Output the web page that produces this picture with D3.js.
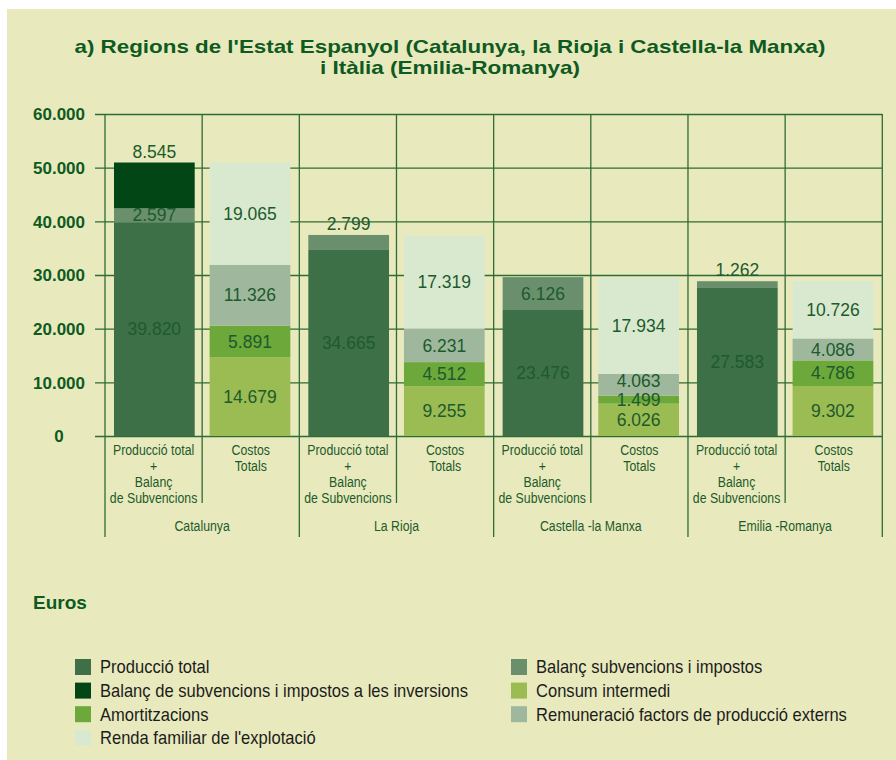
<!DOCTYPE html>
<html>
<head>
<meta charset="utf-8">
<script src="https://cdn.jsdelivr.net/npm/d3@7"></script>
<style>
  html, body { margin: 0; padding: 0; background: #ffffff; }
  svg { display: block; }
</style>
</head>
<body>
<svg id="chart" width="896" height="760"></svg>
<script>
// ---------- DATA ----------
const regions = ["Catalunya", "La Rioja", "Castella -la Manxa", "Emilia -Romanya"];
const barTypes = ["prod", "cost"];
const barTypeLabels = [
  ["Producció total", "+", "Balanç", "de Subvencions"],
  ["Costos", "Totals"]
];
const yTicks = [0, 10000, 20000, 30000, 40000, 50000, 60000];

// Producció total + Balanç de Subvencions (stack bottom → top)
const produccioTotal    = [39820, 34665, 23476, 27583];
const balancSubvencions = [2597, 2799, 6126, 1262];
const balancInversions  = [8545, 0, 0, 0];
// Costos Totals (stack bottom → top)
const consumIntermedi   = [14679, 9255, 6026, 9302];
const amortitzacions    = [5891, 4512, 1499, 4786];
const remuneracio       = [11326, 6231, 4063, 4086];
const rendaFamiliar     = [19065, 17319, 17934, 10726];

const seriesNames = {
  produccioTotal: "Producció total",
  balancSubvencions: "Balanç subvencions i impostos",
  balancInversions: "Balanç de subvencions i impostos a les inversions",
  consumIntermedi: "Consum intermedi",
  amortitzacions: "Amortitzacions",
  remuneracio: "Remuneració factors de producció externs",
  rendaFamiliar: "Renda familiar de l'explotació"
};
const seriesColors = {
  produccioTotal: "#3d7046",
  balancSubvencions: "#6a8f6c",
  balancInversions: "#014614",
  consumIntermedi: "#9bbb53",
  amortitzacions: "#6ca83a",
  remuneracio: "#9fb89d",
  rendaFamiliar: "#d9e9cf"
};
const stacks = {
  prod: [["produccioTotal", produccioTotal], ["balancSubvencions", balancSubvencions], ["balancInversions", balancInversions]],
  cost: [["consumIntermedi", consumIntermedi], ["amortitzacions", amortitzacions], ["remuneracio", remuneracio], ["rendaFamiliar", rendaFamiliar]]
};
const legendLeft  = ["produccioTotal", "balancInversions", "amortitzacions", "rendaFamiliar"];
const legendRight = ["balancSubvencions", "consumIntermedi", "remuneracio"];

// ---------- SETUP ----------
const svg = d3.select("#chart");
const SANS = "'Liberation Sans', Arial, Helvetica, sans-serif";
const DARK = "#0f5a22";
const LABEL = "#1d5a2c";
const GRID = "#2f6b35";
const loc = d3.formatLocale({ decimal: ",", thousands: ".", grouping: [3], currency: ["", "€"] });
const fmt = loc.format(",");

// condensed text helper (horizontal scale, like a narrow face)
function narrowText(g, x, y, str, size, sx, fill) {
  return g.append("text")
    .attr("transform", `translate(${x},${y}) scale(${sx},1)`)
    .attr("dy", "0.35em")
    .attr("font-family", SANS).attr("font-size", size).attr("fill", fill)
    .text(str);
}

svg.append("rect").attr("x", 7).attr("y", 9).attr("width", 889).attr("height", 751).attr("fill", "#e8eabd");

// Title
svg.append("text").attr("x", 450).attr("y", 53).attr("text-anchor", "middle")
  .attr("font-family", SANS).attr("font-weight", "bold").attr("font-size", 18.5).attr("fill", DARK)
  .attr("textLength", 751).attr("lengthAdjust", "spacingAndGlyphs")
  .text("a) Regions de l'Estat Espanyol (Catalunya, la Rioja i Castella-la Manxa)");
svg.append("text").attr("x", 450).attr("y", 74).attr("text-anchor", "middle")
  .attr("font-family", SANS).attr("font-weight", "bold").attr("font-size", 18.5).attr("fill", DARK)
  .attr("textLength", 260).attr("lengthAdjust", "spacingAndGlyphs")
  .text("i Itàlia (Emilia-Romanya)");

// Scales
const plotLeft = 105, plotRight = 882.3, axisLeftX = 95;
const y = d3.scaleLinear().domain([0, 60000]).range([436, 114]);
const x0 = d3.scaleBand().domain(regions).range([plotLeft, plotRight]).padding(0);
const x1 = d3.scaleBand().domain(barTypes).range([0, x0.bandwidth()]).paddingInner(0.156).paddingOuter(0.094);

// Horizontal gridlines + y labels via axis
const yAxis = d3.axisLeft(y).tickValues(yTicks).tickFormat(fmt).tickSize(-(plotRight - axisLeftX)).tickPadding(0);
const gy = svg.append("g").attr("transform", `translate(${axisLeftX},0)`).call(yAxis);
gy.select(".domain").remove();
gy.selectAll(".tick line").attr("stroke", GRID).attr("stroke-width", 1.3);
gy.selectAll(".tick text").attr("x", 59 - axisLeftX).attr("text-anchor", "middle")
  .attr("font-family", SANS).attr("font-weight", "bold").attr("font-size", 17).attr("fill", DARK)
  .attr("dy", "0.35em");

// Vertical gridlines (column boundaries) incl. extensions below axis
const colEdges = [];
regions.forEach((r) => {
  colEdges.push({ x: x0(r), major: true });
  colEdges.push({ x: x0(r) + x0.bandwidth() / 2, major: false });
});
colEdges.push({ x: plotRight, major: true });
svg.append("g").selectAll("line").data(colEdges).join("line")
  .attr("x1", d => d.x).attr("x2", d => d.x)
  .attr("y1", y(60000)).attr("y2", d => d.major ? 537 : 503)
  .attr("stroke", GRID).attr("stroke-width", 1.3);

// Bars
const barG = svg.append("g");
const labelG = svg.append("g");
regions.forEach((r, ri) => {
  barTypes.forEach(bt => {
    const bx = x0(r) + x1(bt);
    const bw = x1.bandwidth();
    let cum = 0;
    const labels = [];
    const segs = stacks[bt];
    segs.forEach(([key, arr], si) => {
      const v = arr[ri];
      if (!v) return;
      const y0v = cum, y1v = cum + v;
      cum = y1v;
      barG.append("rect").attr("x", bx).attr("width", bw)
        .attr("y", y(y1v)).attr("height", y(y0v) - y(y1v))
        .attr("fill", seriesColors[key]);
      const h = y(y0v) - y(y1v);
      const isTop = segs.slice(si + 1).every(([k, a]) => !a[ri]);
      const above = key === "balancInversions" || (isTop && h < 18);
      labels.push({ v, cy: above ? y(y1v) - 11 : (y(y0v) + y(y1v)) / 2, above });
    });
    // avoid overlap bottom → top
    for (let i = 1; i < labels.length; i++) {
      if (!labels[i].above && labels[i].cy > labels[i - 1].cy - 19) labels[i].cy = labels[i - 1].cy - 19;
    }
    labels.forEach(l => {
      labelG.append("text").attr("x", bx + bw / 2).attr("y", l.cy).attr("dy", "0.35em")
        .attr("text-anchor", "middle").attr("font-family", SANS).attr("font-size", 17.5)
        .attr("fill", LABEL).text(fmt(l.v));
    });
  });
});

// Category labels below axis
const catG = svg.append("g").attr("text-anchor", "middle");
regions.forEach(r => {
  barTypes.forEach((bt, bi) => {
    const cx = x0(r) + (bi + 0.5) * x0.bandwidth() / 2;
    barTypeLabels[bi].forEach((line, li) => {
      narrowText(catG, cx, 450 + li * 15.8, line, 15, 0.82, LABEL);
    });
  });
  narrowText(catG, x0(r) + x0.bandwidth() / 2, 526, r, 15, 0.82, LABEL);
});

// Units
svg.append("text").attr("x", 33).attr("y", 602).attr("dy", "0.35em")
  .attr("font-family", SANS).attr("font-weight", "bold").attr("font-size", 19).attr("fill", DARK).text("Euros");

// Legend
function legendCol(keys, sx, tx) {
  const g = svg.append("g");
  keys.forEach((k, i) => {
    const cy = 667 + i * 23.6;
    g.append("rect").attr("x", sx).attr("y", cy - 8).attr("width", 16).attr("height", 16).attr("fill", seriesColors[k]);
    narrowText(g, tx, cy, seriesNames[k], 18, 0.92, "#1c1c1c");
  });
}
legendCol(legendLeft, 75, 100);
legendCol(legendRight, 511, 536);
</script>
</body>
</html>
